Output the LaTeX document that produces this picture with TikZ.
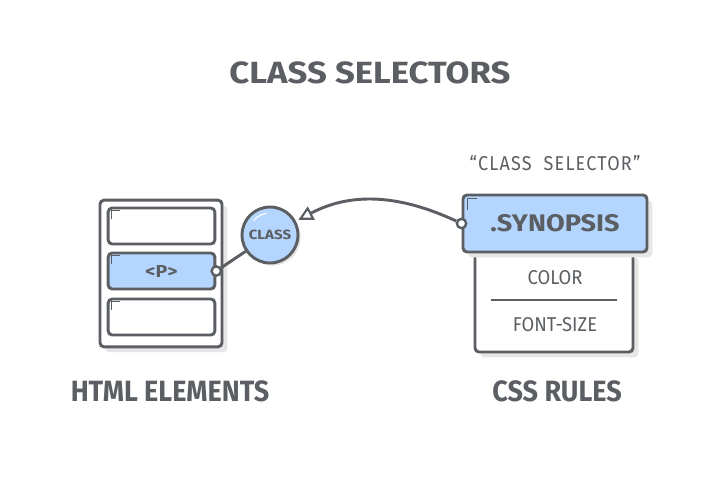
\documentclass[tikz,border=0pt]{standalone}
\usepackage{fontspec}
\setmainfont{Fira Sans}
\newfontfamily\condfont[FakeStretch=0.92]{Fira Sans}
\newfontfamily\widefont[FakeStretch=1.13]{Fira Sans}
\newfontfamily\thinfont[FakeStretch=0.9, LetterSpace=6]{Fira Sans}
\usepackage{tikz}
\usetikzlibrary{arrows.meta,positioning,shadows}
\definecolor{ink}{HTML}{5B5F63}
\definecolor{selblue}{HTML}{B4D5FD}
\definecolor{shade}{HTML}{E6E6E6}
\tikzset{
  box/.style={draw=ink, line width=2.2pt, rounded corners=3pt, fill=white, inner sep=0pt},
  boxs/.style={box, drop shadow={shadow xshift=4pt, shadow yshift=-4pt, fill=shade, opacity=1}},
  boxb/.style={box, fill=selblue},
  pin/.style={circle, draw=ink, line width=1.8pt, fill=white, minimum size=7pt, inner sep=0pt},
  tick/.style={draw=ink, line width=1pt},
  link/.style={draw=ink, line width=2.2pt},
  ar/.style={link, -{Triangle[length=11pt, width=11pt, fill=white, line width=1.6pt]}, shorten >=2pt},
  heading/.style={font=\condfont\bfseries\fontsize{22}{24}\selectfont, text=ink},
  lbl/.style={font=\condfont\fontsize{15}{17}\selectfont, text=ink},
}
\begin{document}
\begin{tikzpicture}[x=0.75pt, y=-0.75pt]
  \useasboundingbox[fill=white] (0,0) rectangle (719,480);
  \node[font=\widefont\bfseries\fontsize{23}{26}\selectfont, text=ink] (title) at (370,73) {CLASS SELECTORS};
  % html side
  \node[boxs, minimum width=91.5pt, minimum height=110pt] (page) at (161,273.5) {};
  \node[box, minimum width=80pt, minimum height=27pt] (elA) at (161.5,226) {};
  \node[boxb, minimum width=80pt, minimum height=27pt, font=\widefont\bfseries\fontsize{13}{15}\selectfont, text=ink] (elP) at (161.5,271) {<P>};
  \node[box, minimum width=80pt, minimum height=27pt] (elC) at (161.5,317) {};
  \foreach \el in {elA,elP,elC}
    \draw[tick] ([shift={(5,12)}]\el.north west) |- ++(8,-8);
  \node[pin] (ppin) at (elP.east) {};
  \node[circle, draw=ink, line width=2.2pt, fill=selblue, minimum size=42pt, inner sep=0pt,
        drop shadow={shadow xshift=2pt, shadow yshift=-2pt, fill=shade, opacity=1},
        font=\widefont\bfseries\fontsize{10}{12}\selectfont, text=ink] (cls) at (270,235) {CLASS};
  \draw[white, line width=0.8pt] (cls.center) ++(-140:22) arc[start angle=-140, end angle=-100, radius=22];
  \draw[link] (ppin) -- (cls);
  % css side
  \node[boxs, minimum width=118.5pt, minimum height=75pt] (rules) at (554,302) {};
  \node[boxb, minimum width=138pt, minimum height=42.75pt, font=\widefont\bfseries\fontsize{18}{20}\selectfont, text=ink,
        drop shadow={shadow xshift=4pt, shadow yshift=-4pt, fill=shade, opacity=1}] (syn) at (555,223.5) {.SYNOPSIS};
  \draw[tick] ([shift={(6,16)}]syn.north west) |- ++(9,-11);
  \node[lbl] (color) at (555,278) {COLOR};
  \node[lbl] (fsize) at (555,325) {FONT-SIZE};
  \coordinate (divL) at (491,300);
  \coordinate (divR) at (617,300);
  \draw[draw=ink, line width=1pt] (divL) -- (divR);
  \node[font=\thinfont\fontsize{15}{17}\selectfont, text=ink] (quote) at (555,163) {“CLASS\ \ SELECTOR”};
  \node[pin] (spin) at (syn.west) {};
  \draw[ar] (spin) to[out=155, in=28] (cls);
  % captions
  \node[heading] (html) at (170,391) {HTML ELEMENTS};
  \node[heading] (css) at (557,391) {CSS RULES};
\end{tikzpicture}
\end{document}
